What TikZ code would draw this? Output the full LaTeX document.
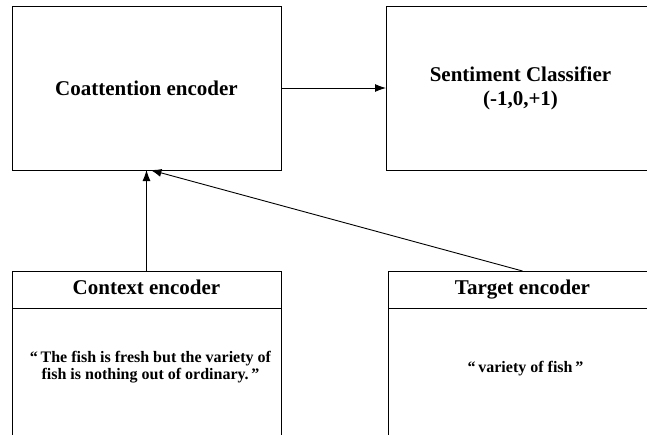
\documentclass[tikz,border=0pt]{standalone}
\usepackage{fontspec}
\setmainfont{Liberation Serif}
\usetikzlibrary{positioning,arrows.meta,calc}
\begin{document}
\begin{tikzpicture}[x=1pt,y=-1pt,
    block/.style={draw, line width=0.9pt, outer sep=0pt, minimum width=269pt, minimum height=164pt, align=center, font=\bfseries\fontsize{21}{24}\selectfont},
    head/.style={draw, line width=0.9pt, outer sep=0pt, minimum width=269pt, minimum height=37pt, text height=14pt, text depth=4pt, font=\bfseries\fontsize{21}{24}\selectfont},
    body/.style={draw, line width=0.9pt, outer sep=0pt, minimum width=269pt, minimum height=140pt},
    quote/.style={align=center, font=\bfseries\fontsize{16}{17}\selectfont},
    link/.style={-{Latex[length=11pt,width=8pt]}, line width=0.9pt}]
  \useasboundingbox (0,0) rectangle (647,434);

  % Upper row
  \node[block] (coatt) at (146.5,88) {Coattention encoder};
  \node[block, right=105pt of coatt] (senti) {Sentiment Classifier\\(-1,0,+1)};

  % Lower row: header + open body
  \node[head] (ctxhead) at (146.5,289.5) {Context encoder};
  \node[body, below=0pt of ctxhead] (ctxbody) {};
  \node[head] (tgthead) at (522.5,289.5) {Target encoder};
  \node[body, below=0pt of tgthead] (tgtbody) {};

  \node[quote] (ctxquote) at ($(ctxhead.south)+(4,59)$) {“\,The fish is fresh but the variety of\\fish is nothing out of ordinary.\,”};
  \node[quote] (tgtquote) at ($(tgthead.south)+(3,61)$) {“\,variety of fish\,”};

  % Connections
  \draw[link] (coatt) -- (senti);
  \draw[link] (ctxhead.north) -- (coatt.south);
  \draw[link] (tgthead.north) -- ([xshift=4pt]coatt.south);
\end{tikzpicture}
\end{document}
